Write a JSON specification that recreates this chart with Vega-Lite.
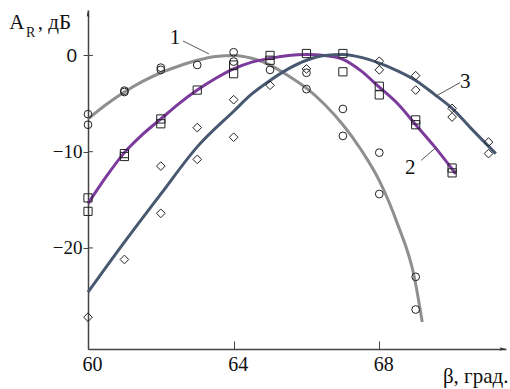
{
  "$schema": "https://vega.github.io/schema/vega-lite/v6.json",
  "autosize": "none",
  "width": 418,
  "height": 339,
  "padding": {"left": 88, "top": 10, "right": 4, "bottom": 40},
  "background": "white",
  "config": {
    "view": {"stroke": null},
    "font": "'Times New Roman', 'Liberation Serif', 'DejaVu Serif', serif",
    "axis": {"labelFont": "'Times New Roman', 'Liberation Serif', 'DejaVu Serif', serif", "titleFont": "'Times New Roman', 'Liberation Serif', 'DejaVu Serif', serif"},
    "text": {"font": "'Times New Roman', 'Liberation Serif', 'DejaVu Serif', serif"}
  },
  "datasets": {
    "curves": [
      {"s": "1", "x": 60, "y": -6.6}, {"s": "1", "x": 60.5, "y": -5.1}, {"s": "1", "x": 61, "y": -3.8}, {"s": "1", "x": 61.5, "y": -2.7},
      {"s": "1", "x": 62, "y": -1.8}, {"s": "1", "x": 62.5, "y": -1.1}, {"s": "1", "x": 63, "y": -0.5}, {"s": "1", "x": 63.5, "y": -0.1},
      {"s": "1", "x": 64, "y": 0.0}, {"s": "1", "x": 64.5, "y": -0.3}, {"s": "1", "x": 65, "y": -1.0}, {"s": "1", "x": 65.5, "y": -2.1},
      {"s": "1", "x": 66, "y": -3.4}, {"s": "1", "x": 66.5, "y": -5.1}, {"s": "1", "x": 67, "y": -7.2}, {"s": "1", "x": 67.5, "y": -9.8},
      {"s": "1", "x": 68, "y": -13.0}, {"s": "1", "x": 68.5, "y": -17.5}, {"s": "1", "x": 68.96, "y": -23.0}, {"s": "1", "x": 69.18, "y": -27.7},
      {"s": "2", "x": 60, "y": -15.4}, {"s": "2", "x": 60.5, "y": -12.6}, {"s": "2", "x": 61, "y": -10.1}, {"s": "2", "x": 61.5, "y": -8.2},
      {"s": "2", "x": 62, "y": -6.6}, {"s": "2", "x": 62.5, "y": -5.0}, {"s": "2", "x": 63, "y": -3.6}, {"s": "2", "x": 63.5, "y": -2.4},
      {"s": "2", "x": 64, "y": -1.4}, {"s": "2", "x": 64.5, "y": -0.7}, {"s": "2", "x": 65, "y": -0.3}, {"s": "2", "x": 65.5, "y": 0.0},
      {"s": "2", "x": 66, "y": 0.1}, {"s": "2", "x": 66.5, "y": 0.0}, {"s": "2", "x": 67, "y": -0.4}, {"s": "2", "x": 67.5, "y": -1.6},
      {"s": "2", "x": 68, "y": -3.3}, {"s": "2", "x": 68.5, "y": -5.0}, {"s": "2", "x": 69, "y": -7.2}, {"s": "2", "x": 69.5, "y": -9.4},
      {"s": "2", "x": 70.1, "y": -12.3},
      {"s": "3", "x": 60, "y": -24.6}, {"s": "3", "x": 61, "y": -19.4}, {"s": "3", "x": 62, "y": -14.4}, {"s": "3", "x": 63, "y": -9.5},
      {"s": "3", "x": 64, "y": -5.8}, {"s": "3", "x": 64.5, "y": -4.0}, {"s": "3", "x": 65, "y": -2.6}, {"s": "3", "x": 65.5, "y": -1.4},
      {"s": "3", "x": 66, "y": -0.5}, {"s": "3", "x": 66.5, "y": 0.0}, {"s": "3", "x": 67, "y": 0.1}, {"s": "3", "x": 67.5, "y": -0.2},
      {"s": "3", "x": 68, "y": -0.8}, {"s": "3", "x": 68.5, "y": -1.6}, {"s": "3", "x": 69, "y": -2.6}, {"s": "3", "x": 69.5, "y": -4.0},
      {"s": "3", "x": 70, "y": -5.5}, {"s": "3", "x": 70.5, "y": -7.5}, {"s": "3", "x": 71.2, "y": -10.2}
    ],
    "pts": [
      {"s": "1", "x": 60, "y": -6.1}, {"s": "1", "x": 60, "y": -7.2}, {"s": "1", "x": 61, "y": -3.66}, {"s": "1", "x": 61, "y": -3.8},
      {"s": "1", "x": 62, "y": -1.27}, {"s": "1", "x": 62, "y": -1.5}, {"s": "1", "x": 63, "y": -0.99}, {"s": "1", "x": 64, "y": 0.33},
      {"s": "1", "x": 64, "y": -0.64}, {"s": "1", "x": 65, "y": -1.5}, {"s": "1", "x": 66, "y": -1.8}, {"s": "1", "x": 66, "y": -3.5},
      {"s": "1", "x": 67, "y": -5.56}, {"s": "1", "x": 67, "y": -8.36}, {"s": "1", "x": 68, "y": -10.1}, {"s": "1", "x": 68, "y": -14.4},
      {"s": "1", "x": 69, "y": -23.0}, {"s": "1", "x": 69, "y": -26.4},
      {"s": "2", "x": 60, "y": -14.8}, {"s": "2", "x": 60, "y": -16.2}, {"s": "2", "x": 61, "y": -10.2}, {"s": "2", "x": 61, "y": -10.5},
      {"s": "2", "x": 62, "y": -6.6}, {"s": "2", "x": 62, "y": -7.1}, {"s": "2", "x": 63, "y": -3.6}, {"s": "2", "x": 64, "y": -1.0},
      {"s": "2", "x": 64, "y": -1.9}, {"s": "2", "x": 65, "y": 0.0}, {"s": "2", "x": 65, "y": -0.5}, {"s": "2", "x": 66, "y": 0.2},
      {"s": "2", "x": 67, "y": 0.2}, {"s": "2", "x": 67, "y": -1.7}, {"s": "2", "x": 68, "y": -3.2}, {"s": "2", "x": 68, "y": -4.1},
      {"s": "2", "x": 69, "y": -6.7}, {"s": "2", "x": 69, "y": -7.2}, {"s": "2", "x": 70, "y": -11.7}, {"s": "2", "x": 70, "y": -12.2},
      {"s": "3", "x": 60, "y": -27.2}, {"s": "3", "x": 61, "y": -21.2}, {"s": "3", "x": 62, "y": -16.4}, {"s": "3", "x": 62, "y": -11.5},
      {"s": "3", "x": 63, "y": -7.5}, {"s": "3", "x": 63, "y": -10.8}, {"s": "3", "x": 64, "y": -4.6}, {"s": "3", "x": 64, "y": -8.5},
      {"s": "3", "x": 65, "y": -3.1}, {"s": "3", "x": 66, "y": -1.4}, {"s": "3", "x": 68, "y": -0.6}, {"s": "3", "x": 68, "y": -1.5},
      {"s": "3", "x": 69, "y": -2.1}, {"s": "3", "x": 69, "y": -3.6}, {"s": "3", "x": 70, "y": -5.5}, {"s": "3", "x": 70, "y": -6.4},
      {"s": "3", "x": 71, "y": -9.0}, {"s": "3", "x": 71, "y": -10.2}
    ],
    "leaders": [
      {"x": 62.61, "y": 1.5, "x2": 63.32, "y2": 0.16},
      {"x": 69.15, "y": -10.9, "x2": 69.58, "y2": -9.5},
      {"x": 69.53, "y": -4.28, "x2": 70.22, "y2": -2.82}
    ],
    "labels": [
      {"t": "1", "x": 62.39, "y": 1.79},
      {"t": "2", "x": 68.85, "y": -11.7},
      {"t": "3", "x": 70.36, "y": -2.72}
    ],
    "yticks": [{"y": 0}, {"y": -10}, {"y": -20}]
  },
  "layer": [
    {
      "data": {"name": "curves"},
      "mark": {"type": "line", "interpolate": "monotone", "strokeWidth": 3, "clip": false},
      "encoding": {
        "x": {"field": "x", "type": "quantitative", "scale": {"domain": [60, 71.48], "nice": false, "zero": false},
          "axis": {"values": [60, 64, 68], "title": "β, град.", "titleX": 420, "titleY": 33.4, "titleAlign": "right", "titleBaseline": "alphabetic",
            "titleFontSize": 21, "titleFontWeight": "normal", "titleColor": "#111",
            "grid": false, "domainColor": "#444", "domainWidth": 1.5, "tickColor": "#444", "tickWidth": 1, "tickSize": -8,
            "labelPadding": 13, "labelOffset": 4, "labelFontSize": 20, "labelColor": "#111", "labelFlush": false}},
        "y": {"field": "y", "type": "quantitative", "scale": {"domain": [-30.5, 4.72], "nice": false, "zero": false},
          "axis": {"values": [0, -10, -20], "title": null, "grid": false, "domainColor": "#444", "domainWidth": 1.5, "tickColor": "#444", "tickWidth": 1, "tickSize": 5,
            "labelPadding": {"condition": {"test": "datum.value == 0", "value": 6.5}, "value": 1},
            "labelFont": {"condition": {"test": "datum.value == 0", "value": "'Liberation Sans', Arial, sans-serif"}, "value": "'Times New Roman', 'Liberation Serif', 'DejaVu Serif', serif"},
            "labelFontSize": 19, "labelColor": "#111"}},
        "color": {"field": "s", "type": "nominal", "scale": {"domain": ["1", "2", "3"], "range": ["#8f8f8f", "#7b3a9c", "#485870"]}, "legend": null},
        "detail": {"field": "s"}
      }
    },
    {
      "data": {"name": "pts"},
      "mark": {"type": "point", "filled": false, "stroke": "#222", "strokeWidth": 1, "opacity": 1},
      "encoding": {
        "x": {"field": "x", "type": "quantitative"},
        "y": {"field": "y", "type": "quantitative"},
        "shape": {"field": "s", "type": "nominal", "scale": {"domain": ["1", "2", "3"], "range": ["circle", "square", "diamond"]}, "legend": null},
        "size": {"field": "s", "type": "nominal", "scale": {"domain": ["1", "2", "3"], "range": [60, 75, 95]}, "legend": null}
      }
    },
    {
      "data": {"name": "leaders"},
      "mark": {"type": "rule", "color": "#555", "strokeWidth": 1},
      "encoding": {
        "x": {"field": "x", "type": "quantitative"},
        "y": {"field": "y", "type": "quantitative"},
        "x2": {"field": "x2"},
        "y2": {"field": "y2"}
      }
    },
    {
      "data": {"name": "labels"},
      "mark": {"type": "text", "fontSize": 21, "color": "#111", "align": "center", "baseline": "middle"},
      "encoding": {
        "x": {"field": "x", "type": "quantitative"},
        "y": {"field": "y", "type": "quantitative"},
        "text": {"field": "t"}
      }
    },
    {
      "data": {"name": "yticks"},
      "mark": {"type": "rule", "color": "#444", "strokeWidth": 1},
      "encoding": {
        "x": {"datum": 60},
        "x2": {"datum": 60.137},
        "y": {"field": "y", "type": "quantitative"}
      }
    },
    {
      "data": {"values": [{}]},
      "mark": {"type": "point", "shape": "M0,0L0.4,2L0,1.6L-0.4,2Z", "size": 49, "filled": true, "color": "#333", "opacity": 1, "clip": false},
      "encoding": {"x": {"datum": 60}, "y": {"datum": 4.72}}
    },
    {
      "data": {"values": [{}]},
      "mark": {"type": "point", "shape": "M0,0L-2,0.55L-1.6,0L-2,-0.55Z", "size": 42, "filled": true, "color": "#333", "opacity": 1, "clip": false},
      "encoding": {"x": {"datum": 71.48}, "y": {"datum": -30.5}}
    },
    {
      "data": {"values": [{}]},
      "mark": {"type": "text", "text": "A", "fontSize": 21, "color": "#111", "align": "left", "baseline": "alphabetic"},
      "encoding": {"x": {"datum": 57.84}, "y": {"datum": 2.72}}
    },
    {
      "data": {"values": [{}]},
      "mark": {"type": "text", "text": "R", "fontSize": 14, "color": "#111", "align": "left", "baseline": "alphabetic"},
      "encoding": {"x": {"datum": 58.3}, "y": {"datum": 1.9}}
    },
    {
      "data": {"values": [{}]},
      "mark": {"type": "text", "text": ", дБ", "fontSize": 21, "color": "#111", "align": "left", "baseline": "alphabetic"},
      "encoding": {"x": {"datum": 58.62}, "y": {"datum": 2.72}}
    }
  ]
}
